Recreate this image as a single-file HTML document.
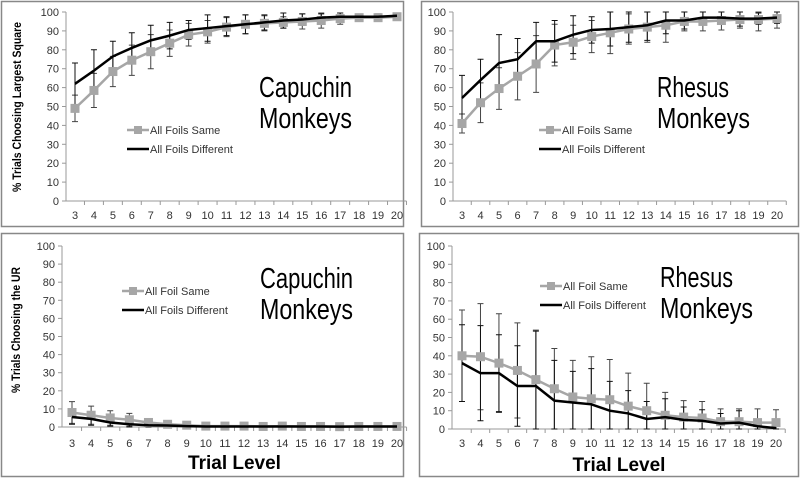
<!DOCTYPE html>
<html><head><meta charset="utf-8"><style>
body{margin:0;background:#fff;font-family:"Liberation Sans",sans-serif}
svg{display:block}
</style></head><body>
<svg id="c" width="800" height="478"></svg>
<script>
const trials=[3,4,5,6,7,8,9,10,11,12,13,14,15,16,17,18,19,20];
const yTicks=[0,10,20,30,40,50,60,70,80,90,100];
// top-left capuchin largest square
const tlSame=[49,58.5,68.5,74.5,79,83.5,88,89.5,92,93.5,94,94.5,95,95.5,96.5,97,97,97.5];
const tlDiff=[62,69,76.5,81,85,87.5,90.5,91.5,92.5,93.5,94.5,95.5,96,97,97.5,97.5,97.5,98];
const tlSameErr=[7,9,8,8,9,7,6,6,5,5,4,3,4,4,3,1.5,2,2];
const tlDiffErr=[11,11,8,8,8,7,5,7,5,5,4,4,3,2,2,1,1,1];
// top-right rhesus largest square
const trSame=[41,52,59.5,66,72.5,82.5,84,87,89,91,92,93,95,95,95.5,96,96,96.5];
const trDiff=[54.5,64,73,75,84.5,84.5,88,90.5,91,92,93,95.5,95.5,97,97,96.5,96.5,97];
const trSameErr=[5,10.5,11,12.5,15,11,9,8.5,11,8,8,9,5,5,5,4.5,6,5];
const trDiffErr=[12,11,15,11,10,11,10,7,9,8,8,7,4.5,3,3,4,3,3];
// bottom-left capuchin UR
const blSame=[8,6.5,5,4,2.5,1.5,1,0.5,0.5,0.5,0.3,0.5,0.3,0.3,0.2,0.3,0.3,0.3];
const blDiff=[5.5,4.5,2.5,1.5,1,0.8,0.5,0.3,0.3,0.3,0.3,0.3,0.3,0.3,0.2,0.3,0.3,0.3];
const blSameErr=[6,5,4,3.5,1.5,0.8,0.5,0.3,0.3,0.3,0.3,0.3,0.3,0.3,0.2,0.3,0.3,0.3];
const blDiffErr=[4,3.5,2,1.5,1,0.5,0.5,0.3,0.3,0.3,0.3,0.3,0.3,0.3,0.2,0.3,0.3,0.3];
// bottom-right rhesus UR
const brSame=[40,39.5,36,32,27,22,17.5,16.5,16,12.5,10,7.5,6.5,6,4,4,3.5,3.5];
const brDiff=[36,30.5,30.5,23.5,23.5,15.5,14.5,13.5,10,8.5,5.5,6.5,5,4.5,3,3.5,1.5,0.5];
const brSameErr=[25,29,27,26,27,22,20,23,22,18,15,12.5,9,9,7,7,7.5,7];
const brDiffErr=[21,26,21,22,30,22,17,19.5,16,12.5,9.5,10,7,6,5.5,6.5,3.5,3];

const NS='http://www.w3.org/2000/svg';
const svg=document.getElementById('c');
function el(tag,attrs,parent,text){const e=document.createElementNS(NS,tag);for(const k in attrs)e.setAttribute(k,attrs[k]);if(text!==undefined)e.textContent=text;(parent||svg).appendChild(e);return e;}

function panel(p){
  const g=el('g',{});
  
  
  const fr=el('rect',{x:p.box[0]+0.5,y:p.box[1]+0.5,width:p.box[2],height:p.box[3],fill:'none',stroke:'#888','stroke-width':1.5},g);
  
  
  const xs=v=>p.x0+(v-3)*(p.x1-p.x0)/17;
  const ys=v=>p.y0-(v)*(p.y0-p.y100)/100;
  const step=(p.x1-p.x0)/17;
  const ya=el('line',{x1:p.ax,y1:p.y100,x2:p.ax,y2:p.y0,stroke:'#999'},g);
  
  const xa=el('line',{x1:p.ax,y1:p.y0,x2:p.x1+step/2,y2:p.y0,stroke:'#999'},g);
  
  yTicks.forEach(t=>{
    el('line',{x1:p.ax-4,y1:ys(t),x2:p.ax,y2:ys(t),stroke:'#999'},g);
    const tx=el('text',{x:p.ax-7,y:ys(t)+4,'font-size':11,fill:'#333','text-anchor':'end'},g,t);
    
  });
  trials.forEach((t,i)=>{
    el('line',{x1:xs(t)+step/2,y1:p.y0,x2:xs(t)+step/2,y2:p.y0+4,stroke:'#999'},g);
    const tx=el('text',{x:xs(t),y:p.xl,'font-size':11,fill:'#333','text-anchor':'middle'},g,t);
    
  });
  function errs(vals,e,col){
    vals.forEach((v,i)=>{
      const x=xs(trials[i]);const hi=Math.min(100,v+e[i]),lo=Math.max(0,v-e[i]);
      const b=el('path',{d:`M${x},${ys(hi)}V${ys(lo)}M${x-3},${ys(hi)}H${x+3}M${x-3},${ys(lo)}H${x+3}`,stroke:col,'stroke-width':1,fill:'none'},g);
      
    });
  }
  errs(p.same,p.sameErr,'#444');
  errs(p.diff,p.diffErr,'#111');
  const ls=el('polyline',{points:p.same.map((v,i)=>xs(trials[i])+','+ys(v)).join(' '),fill:'none',stroke:'#a6a6a6','stroke-width':2.5},g);
  
  p.same.forEach((v,i)=>{
    const m=el('rect',{x:xs(trials[i])-4.5,y:ys(v)-4.5,width:9,height:9,fill:'#a6a6a6'},g);
    
  });
  const ld=el('polyline',{points:p.diff.map((v,i)=>xs(trials[i])+','+ys(v)).join(' '),fill:'none',stroke:'#000','stroke-width':2.5},g);
  
  const [lx,ly]=p.leg;
  const l1=el('g',{},g);
  el('line',{x1:lx,y1:ly,x2:lx+22,y2:ly,stroke:'#a6a6a6','stroke-width':2.5},l1);
  el('rect',{x:lx+7,y:ly-4,width:8,height:8,fill:'#a6a6a6'},l1);
  el('text',{x:lx+23,y:ly+4,'font-size':11,fill:'#333'},l1,p.sameLabel);
  const l2=el('g',{},g);
  el('line',{x1:lx,y1:ly+19,x2:lx+22,y2:ly+19,stroke:'#000','stroke-width':2.5},l2);
  el('text',{x:lx+23,y:ly+23,'font-size':11,fill:'#333'},l2,'All Foils Different');
  const t1=el('text',{x:p.title[0],y:p.title[1],'font-size':29,fill:'#000',textLength:p.tw[0],lengthAdjust:'spacingAndGlyphs'},g,p.t1);
  
  const t2=el('text',{x:p.title[0],y:p.title[1]+31,'font-size':29,fill:'#000',textLength:p.tw[1],lengthAdjust:'spacingAndGlyphs'},g,'Monkeys');
  
  if(p.ytitle){
    const yt=el('text',{x:0,y:0,'font-size':12,'font-weight':'bold',fill:'#000','text-anchor':'middle',textLength:p.ytitle[3],lengthAdjust:'spacingAndGlyphs',transform:`translate(${p.ytitle[1]},${p.ytitle[2]}) rotate(-90)`},g,p.ytitle[0]);
    
  }
  if(p.xtitle){
    const xt=el('text',{x:(p.x0+p.x1)/2,y:p.xtitle,'font-size':19,'font-weight':'bold',fill:'#000','text-anchor':'middle'},g,'Trial Level');
    
  }
}
panel({name:'capuchin-largest-square-panel',box:[1,1,402,225],ax:66,x0:75,x1:397,y0:201,y100:12,xl:219,
  same:tlSame,diff:tlDiff,sameErr:tlSameErr,diffErr:tlDiffErr,leg:[127,130],sameLabel:'All Foils Same',
  title:[259,97],tw:[93,93],t1:'Capuchin',ytitle:['% Trials Choosing Largest Square',21,107,170]});
panel({name:'rhesus-largest-square-panel',box:[421,1,377,225],ax:453,x0:462,x1:777,y0:201,y100:12,xl:219,
  same:trSame,diff:trDiff,sameErr:trSameErr,diffErr:trDiffErr,leg:[539,130],sameLabel:'All Foils Same',
  title:[657,97],tw:[72,93],t1:'Rhesus'});
panel({name:'capuchin-ur-panel',box:[1,233,402,243],ax:62,x0:72,x1:397,y0:427,y100:246,xl:447,
  same:blSame,diff:blDiff,sameErr:blSameErr,diffErr:blDiffErr,leg:[122,291],sameLabel:'All Foil Same',
  title:[260,288],tw:[93,93],t1:'Capuchin',ytitle:['% Trials Choosing the UR',20,330,126],xtitle:469});
panel({name:'rhesus-ur-panel',box:[419,233,379,243],ax:452,x0:462,x1:776,y0:429,y100:246,xl:447,
  same:brSame,diff:brDiff,sameErr:brSameErr,diffErr:brDiffErr,leg:[540,286],sameLabel:'All Foil Same',
  title:[660,287],tw:[73,93],t1:'Rhesus',xtitle:471});
</script>
</body></html>
